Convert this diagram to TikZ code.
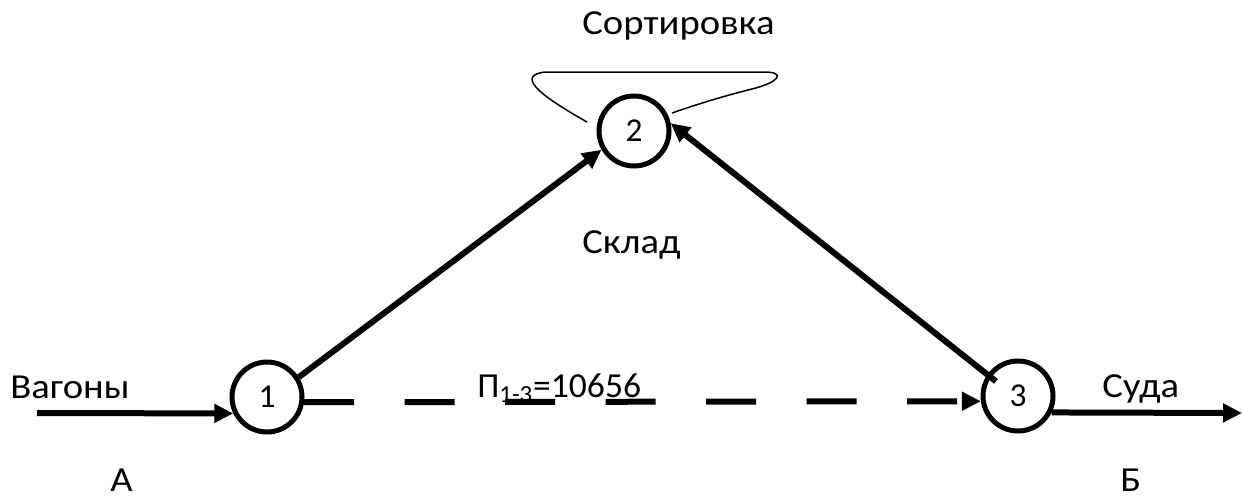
\documentclass[tikz,border=0pt]{standalone}
\usepackage{fontspec}
\setmainfont{Carlito}
\usetikzlibrary{arrows.meta}
\begin{document}
\begin{tikzpicture}[x=0.02cm,y=-0.02cm,
  state/.style={circle,draw,line width=0.1cm,minimum size=1.4cm,inner sep=0pt,
    font=\fontsize{19}{21}\selectfont},
  flow/.style={line width=0.12cm,-{Triangle[length=0.38cm,width=0.36cm]}},
  lbl/.style={anchor=base west,inner sep=0pt,xscale=1.1,font=\fontsize{20}{23}\selectfont},
  loopline/.style={line width=0.03cm}]
\useasboundingbox (0,0) rectangle (1243,498);

% stations
\node[state] (n1) at (267,397) {1};
\node[state] (n2) at (634,131) {2};
\node[state] (n3) at (1018,396) {3};

% free ends of the outer flows
\coordinate (inA) at (37,413);
\coordinate (outB) at (1242,413);

% sorting loop around station 2
\coordinate (loopL) at (587,122);
\coordinate (loopR) at (672,113);
\draw[loopline] (loopL) .. controls (548,100) and (512,76) .. (545,72)
  -- (764,72) .. controls (786,72) and (780,82) .. (752,89)
  .. controls (720,97) and (692,106) .. (loopR);

% flows
\draw[flow] (inA) -- (n1.206);
\draw[flow] (n1.32) -- (n2.210);
\draw[flow,shorten <=-0.22cm] (n3.145) -- (n2.12);
\draw[flow,dash pattern=on 1cm off 1.01cm] (n1.-8) -- (n3.188);
\draw[flow] (n3.-26) -- (outB);

% labels
\node[lbl] (tSort) at (582,34) {Сортировка};
\node[lbl] (tSklad) at (582,253) {Склад};
\node[lbl] (tVag) at (10,398) {Вагоны};
\node[lbl] (tSuda) at (1102,397) {Суда};
\node[lbl,xscale=0.92] (tP) at (477,397) {П\textsubscript{1-3}=10656};
\node[lbl] (tA) at (110,491) {А};
\node[lbl] (tB) at (1120,491) {Б};
\end{tikzpicture}
\end{document}
